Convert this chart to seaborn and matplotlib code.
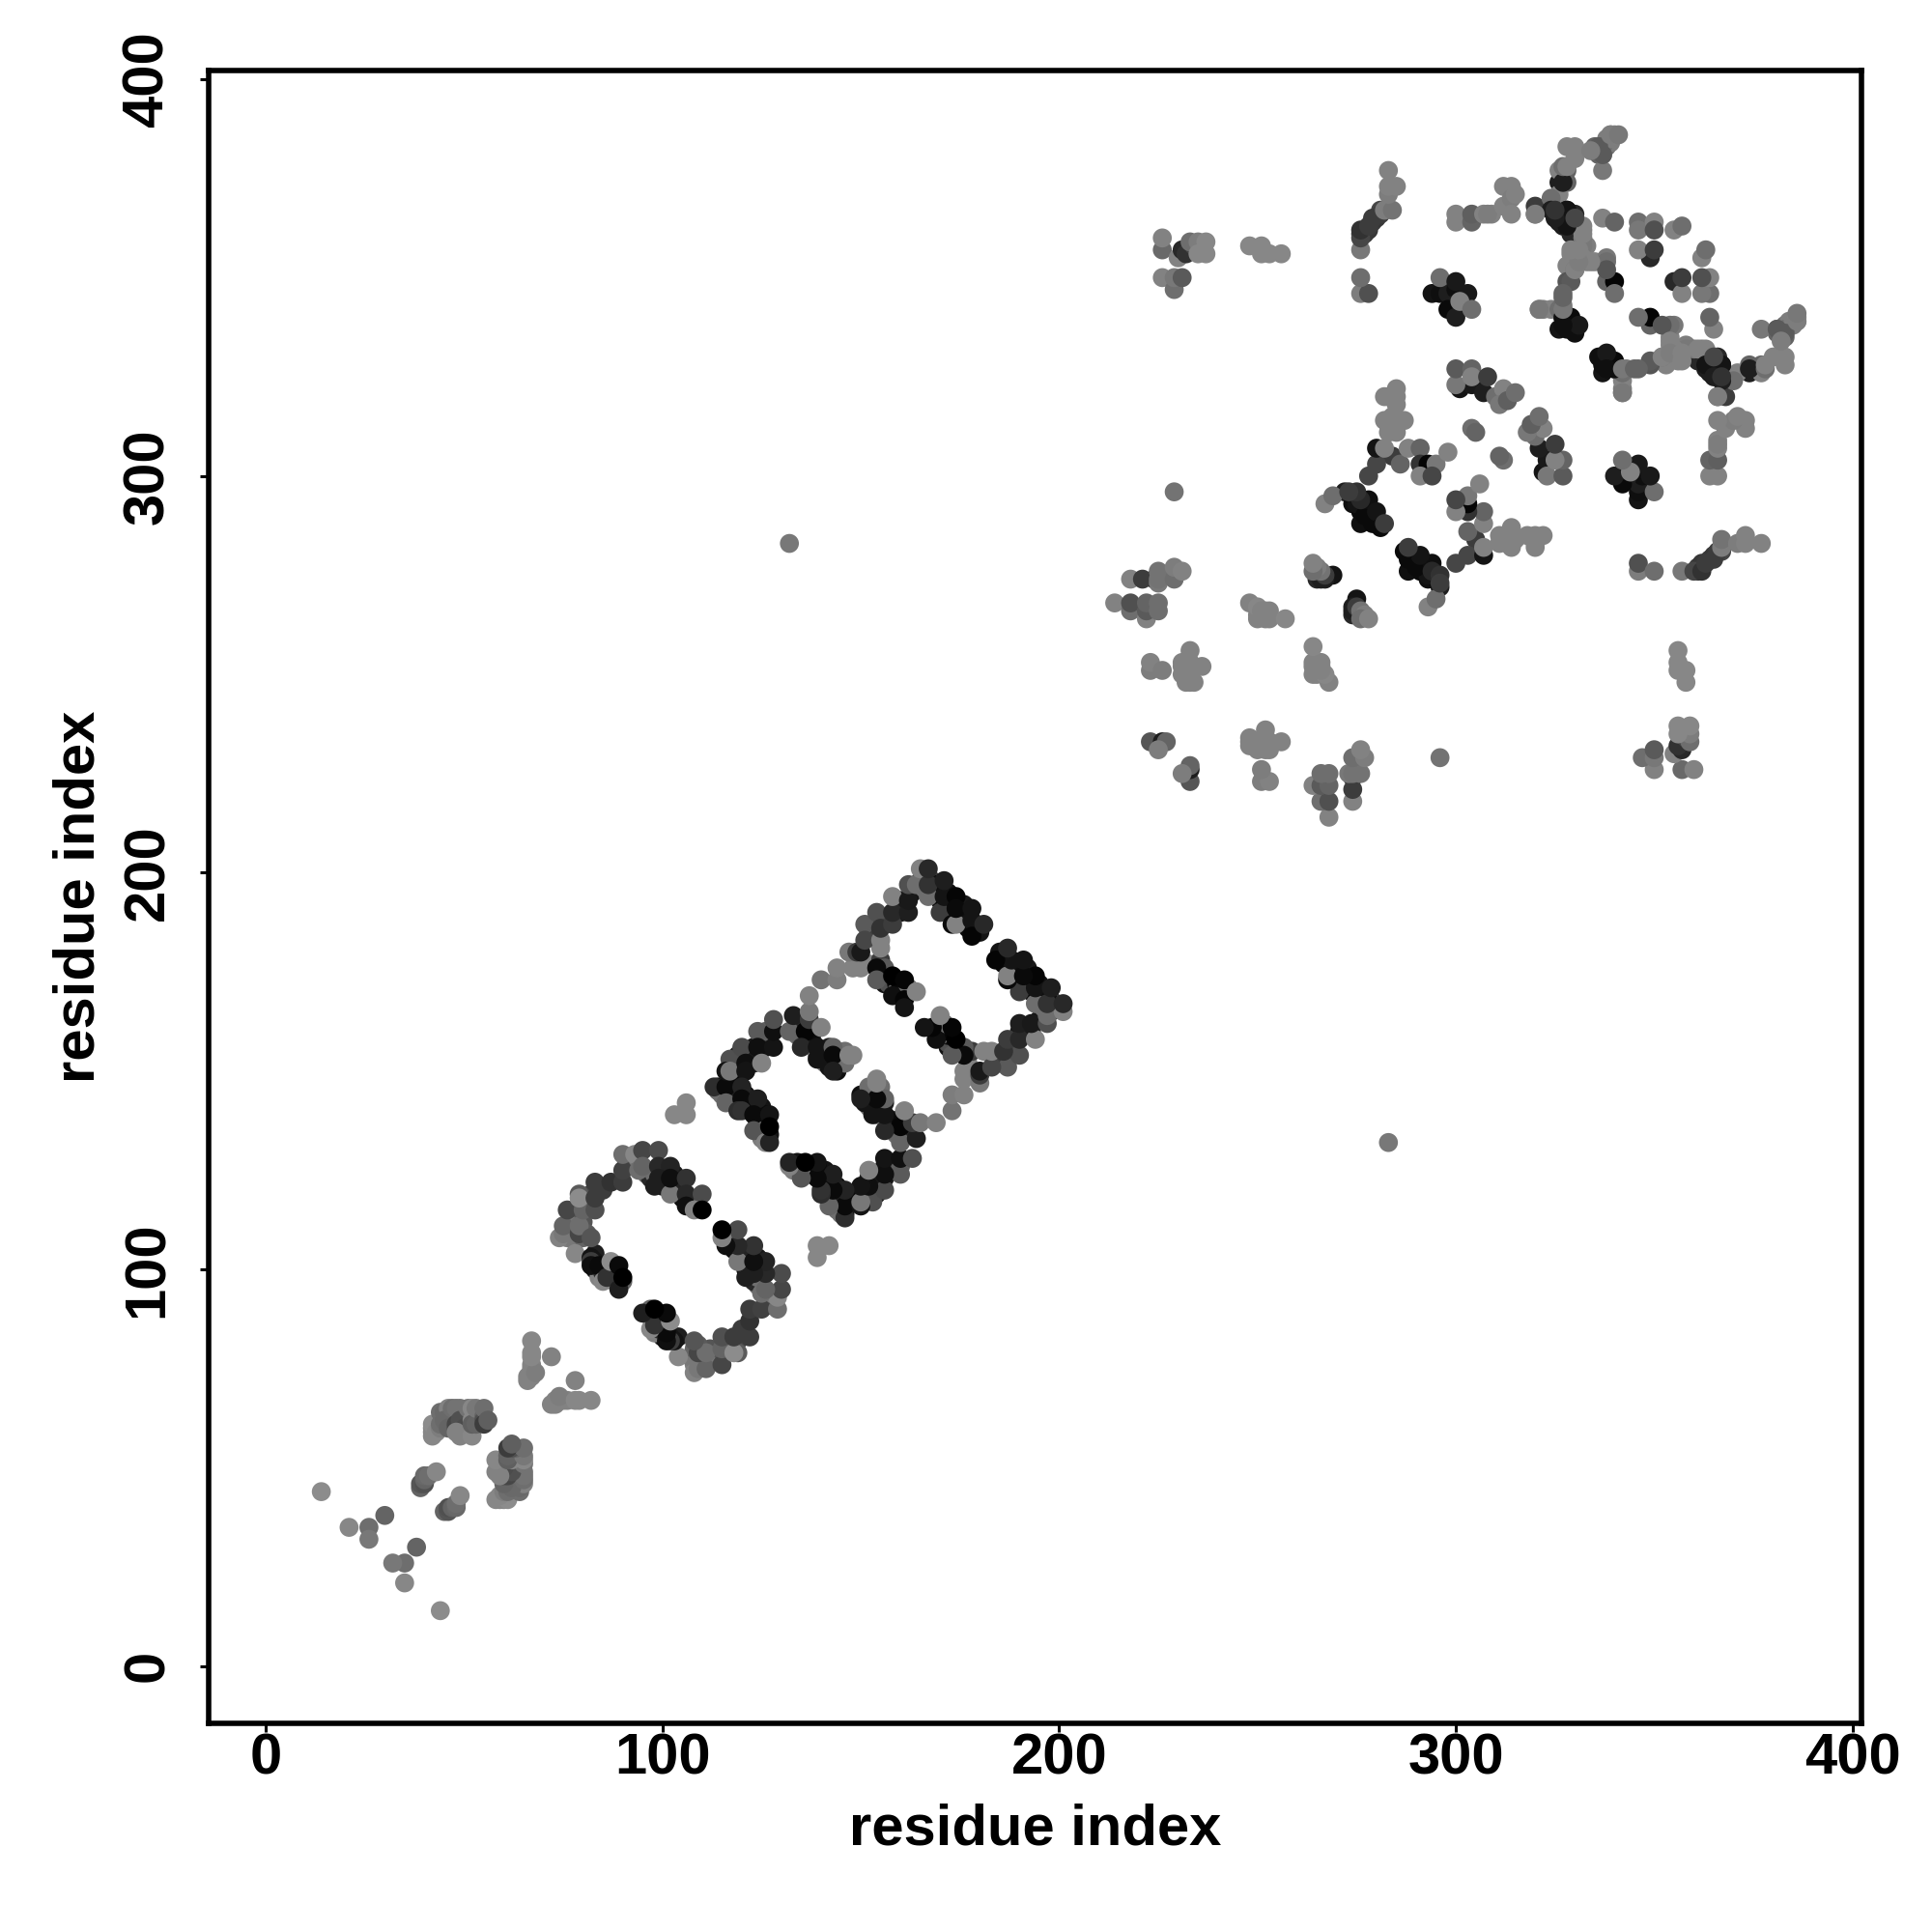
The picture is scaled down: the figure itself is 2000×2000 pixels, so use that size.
import pandas as pd
import matplotlib
matplotlib.use('Agg')
import matplotlib.pyplot as plt
import seaborn as sns

# contacts as (residue i, residue j, grey level), i < j, mirrored below when plotted
under_rings = [(77,113,90),(77,111,120),(78,110,110),(76,108,125),(76,110,115),(78,107,120),(80,108,100),(80,112,85),
               (81,109,90),(81,116,75),(81,118,100),(82,119,70),(85,120,60),(91,127,85),(94,127,120),(96,124,100),
               (97,123,40),(98,124,110),(100,121,25),(100,125,25),(101,122,20),(103,121,30),(104,120,35),(103,124,25),
               (105,118,15),(107,117,110),(108,117,20),(109,116,110),(83,100,25),(83,104,30),(84,98,130),(85,99,40),
               (87,98,20),(88,97,30),(88,99,30),(89,97,120),(90,97,100),(83,102,20),
               (114,146,20),(114,145,110),(115,144,110),(117,144,90),(118,146,20),(118,144,15),(117,148,90),(119,148,10),
               (119,145,30),(121,144,10),(122,141,40),(122,143,30),(123,141,10),(125,141,20),(125,138,110),(125,136,100),
               (126,139,10),(126,134,100),(125,133,125),(127,134,20),(124,137,15),(124,135,110),
               (118,152,30),(119,154,30),(122,154,20),(123,152,30),(123,156,25),(126,156,20),(126,158,30),(126,160,95),
               (134,162,15),(134,159,110),(135,158,100),(136,162,40),(137,158,30),(138,157,25),(138,160,10),(139,154,110),
               (141,155,30),(141,152,110),(142,151,20),(144,150,15),(144,152,15),(145,154,60),(145,153,110),(146,152,110),
               (146,155,110),(142,156,30),
               (152,177,130),(155,178,60),(156,174,110),(156,172,20),(157,172,80),(159,172,10),(159,170,100),(160,171,5),
               (160,169,15),(162,171,110),(163,170,110),(156,176,90),
               (152,185,80),(153,184,60),(153,187,60),(156,188,70),(160,190,25),(160,193,25),(163,195,20),(165,198,60),
               (166,196,110),(168,198,60),(169,195,20),(169,197,15),(170,193,10),(172,191,10),(172,195,15),(175,190,30),
               (176,189,15),(176,192,25),(177,186,10),(179,186,15),(180,185,20)]

under_domain = [(277,361,60),(278,362,55),(279,364,60),(280,365,55),(281,367,70),(276,361,60),
                (325,366,30),(327,365,30),(328,365,25),(329,363,30),(326,364,30),
                (326,337,20),(327,340,15),(328,339,15),(329,338,10),(329,337,20),
                (335,383,100),(336,382,110),(338,383,110),(339,384,125),(338,385,125),(339,386,130),
                (331,360,130),(331,356,130),(330,354,130),(333,358,125),(333,354,130),
                (328,364,40),(329,365,30),(326,367,30),(326,365,60),(330,366,40),
                (283,313,130),(284,312,130),(283,311,130),(285,311,130),(284,315,130),
                (285,322,130),(285,318,130),(284,320,130),(283,320,130),
                (272,296,30),(274,293,15),(276,291,10),(277,293,15),(278,291,15),(279,290,10),(280,288,10),(276,288,15),
                (284,305,60),(286,303,100)]

nterm = [(14,44,140),(21,35,135),(26,35,110),(26,32,120),(30,38,100),
         (39,45,100),(39,46,85),(40,46,80),(40,47,100),(40,48,105),(41,48,110),(43,49,135),
         (42,58,135),(42,59,135),(42,60,135),(42,61,140),(43,59,135),(44,60,125),(44,61,110),(44,64,110),
         (45,64,105),(46,65,130),(45,62,105),(46,61,105),(46,60,100),(47,65,110),(48,65,115),(49,65,115),
         (50,64,115),(48,60,80),(48,61,70),(49,62,80),(50,60,75),(48,59,130),(49,58,130),(52,58,135),
         (51,65,115),(52,65,135),(52,62,135),(52,61,95),(53,61,100),(53,65,120),(55,63,100),(55,62,80),
         (55,65,110),(55,61,60),(56,62,95),
         (66,72,130),(66,73,130),(67,73,130),(67,74,130),(67,75,130),(67,76,130),(68,74,125),
         (67,78,135),(67,79,135),(67,82,135),(72,78,130)]

ring_one = [(74,108,130),(75,109,120),(75,111,100),(76,115,70),(78,104,135),(79,109,70),(79,111,110),
            (80,115,100),(79,119,90),(79,118,140),(82,108,85),(83,115,80),(83,118,60),(83,122,60),
            (87,122,50),(90,122,60),(90,125,65),(90,129,110),(93,129,135),(95,130,70),(99,130,75),
            (94,125,110),(95,126,100),(98,121,30),(99,126,40),(102,126,35),(99,123,30),(102,119,120),
            (102,123,15),(106,123,50),(106,119,40),(110,119,75),(106,116,15),(108,115,130),(110,115,0),
            (82,103,20),(82,102,60),(82,101,15),(84,101,10),(85,97,135),(86,98,50),(87,102,140),
            (89,101,10),(89,95,30),(90,98,0)]

ring_two = [(103,139,135),(106,142,135),(106,139,135),
            (113,146,45),(116,146,10),(116,142,100),(117,153,80),(116,150,20),(117,150,120),
            (120,156,75),(121,152,15),(121,150,20),(120,146,35),(120,143,10),(124,160,90),(124,156,15),
            (125,152,130),(128,156,20),(128,160,15),(128,163,80),(119,140,45),(124,143,30),(120,140,50),
            (123,139,10),(127,139,20),(123,135,85),(126,132,130),(127,132,35),(127,136,0),
            (132,160,100),(133,164,30),(136,160,5),(137,163,60),(137,165,120),(137,169,130),(140,161,130),
            (135,156,40),(139,156,20),(139,153,20),(143,156,100),(143,154,10),(143,150,30),(147,154,130),
            (148,154,130),(140,173,115),(144,173,125),(144,176,130),(148,176,130),(150,176,130),
            (147,180,120),(149,180,60),(150,180,25),(154,176,10),(154,173,90),(155,181,130),(158,174,0),
            (161,173,5),(158,169,15),(161,168,5),(161,166,20),(164,170,130),
            (151,187,90),(151,183,70),(155,183,130),(154,190,80),(155,186,50),(158,187,60),(158,190,40),
            (158,194,130),(162,190,30),(162,193,25),(162,197,80),(164,197,110),(165,201,130),(167,194,110),
            (167,197,50),(167,201,40),(170,190,60),(171,194,20),(171,198,30),(174,194,5),(173,187,10),
            (174,187,130),(174,191,10),(178,191,20),(178,188,20),(178,184,5),(181,187,40)]

domain_left = [(132,283,120),(229,296,115),
               (214,268,130),(218,266,110),(218,268,80),(222,264,130),(222,266,90),(222,268,100),(225,266,110),(225,268,110),
               (224,274,15),(218,274,130),(221,274,60),(225,273,120),(225,274,115),(225,276,115),(229,274,110),(229,277,125),(231,276,130),
               (223,251,125),(223,253,130),(226,251,125),(231,250,130),(231,252,130),(231,253,130),(232,248,130),(232,253,130),
               (233,248,130),(234,248,130),(233,250,130),(233,253,130),(236,252,130),(233,256,130),
               (225,232,20),(223,233,85),(226,233,30),(227,233,100),(225,231,125),
               (226,350,130),(229,347,110),(229,350,120),(231,350,90),(226,357,105),(226,360,130),(230,355,130),
               (231,357,40),(232,356,50),(234,358,70),(233,359,110),(235,359,125),(235,356,135),(237,356,135),(237,359,135),
               (248,358,135),(251,356,135),(251,358,135),(253,356,135),(256,356,135)]

domain_mid = [(248,268,130),(250,264,130),(250,265,130),(250,267,135),(251,266,130),(252,264,130),(252,266,130),
              (253,264,130),(253,266,130),(257,264,135),
              (269,275,20),(267,274,30),(265,274,40),(266,274,30),(267,275,60),(266,276,115),(265,277,125),(264,276,110),(264,278,130),
              (276,346,125),(278,346,80),(276,350,110),(276,357,120),(276,360,70),(276,362,50),(278,363,60),(279,365,60),
              (281,366,60),(282,367,125),(284,367,115),(283,371,125),(283,373,130),(285,373,130),(283,377,130),
              (267,293,130),(269,295,110),(274,295,10),(275,293,20),(277,290,10),(279,288,10),(278,294,15),(280,291,20),
              (276,294,40),(275,296,50),(273,296,60),(281,287,10),(282,288,60),
              (278,300,70),(280,303,70),(280,307,20),(282,307,130),(282,314,130),(285,314,130),(287,314,130),
              (282,320,130),(285,320,130),(288,307,130),(291,307,100),(291,303,50),(293,303,5),(295,303,120),
              (291,300,130),(294,300,70),(298,306,130)]

domain_right = [(294,346,20),(296,346,15),(298,346,30),(300,347,15),(299,343,30),(298,342,10),(300,340,30),
                (296,350,110),(300,349,25),(303,346,25),(301,344,130),(304,342,110),
                (300,364,130),(300,366,130),(304,364,100),(304,366,95),(307,366,130),(309,366,130),
                (308,366,125),(312,368,130),(312,373,130),(314,373,130),(314,370,125),(314,366,130),(315,371,130),
                (320,366,120),(320,368,60),
                (301,322,20),(304,323,25),(300,323,120),(300,327,90),(304,327,100),(304,325,130),(307,321,30),(308,325,60),
                (310,320,110),(312,322,130),(311,318,120),(313,319,95),(315,321,110),(304,312,110),(305,311,100),
                (326,374,30),(328,374,100),(326,377,130),(328,377,100),(326,371,130),(324,370,110),(328,383,130),(330,383,130),(330,380,130),
                (335,382,130),(336,381,100),(337,377,120),(337,381,110),(337,383,110),(339,385,125),(340,386,130),
                (324,367,30),(326,365,30),(328,367,30),(327,363,30),(329,361,40),(330,365,60),(332,362,120),(332,360,120),
                (332,358,120),(332,355,130),(329,356,130),(328,353,130),(330,352,120),(335,354,130),(338,355,120),
                (337,365,130),(340,364,100),(346,364,110),(346,362,120),(350,364,130),(350,362,80),(355,362,130),(357,363,110),
                (349,355,40),(346,357,130),(350,357,60)]

domain_core = [(338,349,100),(340,349,5),(340,346,110),(328,349,85),(329,349,90),(327,346,100),(327,343,120),
               (321,342,130),(322,342,125),(324,342,130),(326,342,110),
               (327,340,15),(328,337,15),(330,336,15),(329,340,10),(331,338,25),
               (338,354,110),(338,352,85),(334,354,130),(330,352,130),(331,354,125),(331,357,130),(329,357,130),
               (332,361,130),(332,363,130),(328,363,20),(328,367,20),(330,365,70),(325,365,30),(325,367,50),
               (320,366,125),(327,374,30),(327,378,110),(328,378,130),(330,382,130),
               (337,381,90),(336,383,90),(339,386,125),(341,386,120),(334,382,125),
               (327,338,15),(327,342,120),(327,345,100),(321,342,120)]

contacts = under_rings + under_domain + nterm + ring_one + ring_two + domain_left + domain_mid + domain_right + domain_core

tick_values = [0, 100, 200, 300, 400]

upper = pd.DataFrame(contacts, columns=['i', 'j', 'grey'])
mirror = upper.rename(columns={'i': 'j', 'j': 'i'})
df = pd.concat([upper, mirror], ignore_index=True)

sns.set_style('white')
plt.rcParams['font.family'] = ['Liberation Sans', 'DejaVu Sans']
plt.rcParams['text.color'] = 'black'
plt.rcParams['axes.labelcolor'] = 'black'
plt.rcParams['xtick.labelcolor'] = 'black'
plt.rcParams['ytick.labelcolor'] = 'black'

fig = plt.figure(figsize=(10, 10), dpi=200)
ax = fig.add_axes([216/2000, 216/2000, 1711/2000, 1711/2000])

sns.scatterplot(data=df, x='i', y='j', hue='grey', palette='gray', hue_norm=(0, 255),
                s=50, linewidth=0, legend=False, ax=ax)

ax.set_xlim(-14.4, 402.25)
ax.set_ylim(-14.4, 402.2)
ax.set_xticks(tick_values)
ax.set_yticks(tick_values)
ax.tick_params(axis='both', length=3.2, width=1.1, color='black', labelsize=21.5, left=True, bottom=True)
ax.tick_params(axis='x', pad=0.3)
ax.tick_params(axis='y', pad=9.4)
for lab in ax.get_xticklabels():
    lab.set_fontweight('bold')
for lab in ax.get_yticklabels():
    lab.set_fontweight('bold')
    lab.set_rotation(90)
    lab.set_va('center')
ax.set_xlabel('residue index', fontsize=21.5, fontweight='bold', labelpad=6.4)
ax.set_ylabel('residue index', fontsize=21.5, fontweight='bold', labelpad=5.8)
for side in ax.spines.values():
    side.set_visible(True)
    side.set_linewidth(2)
    side.set_color('black')

fig.savefig('out.png', dpi=200)
